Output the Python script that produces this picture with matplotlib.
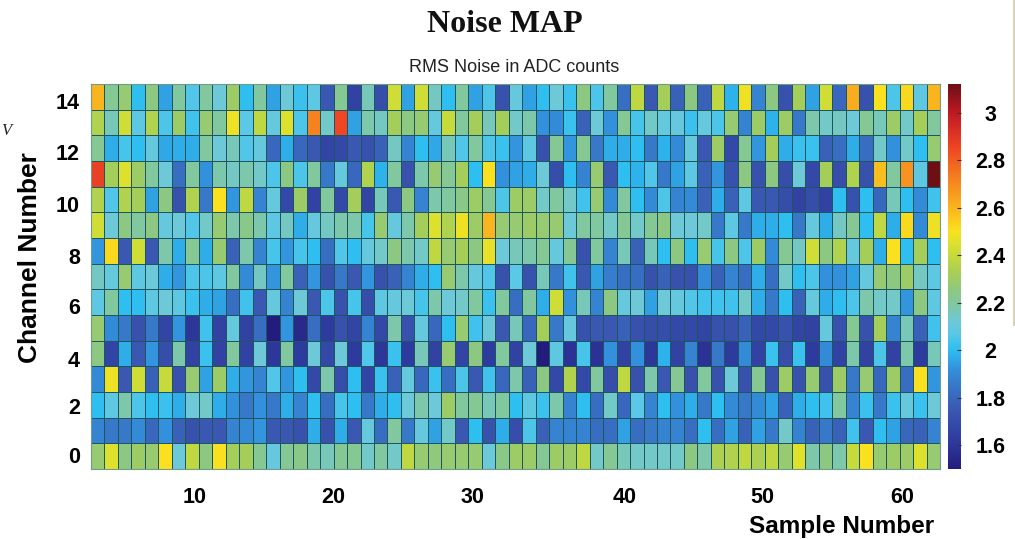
import numpy as np
from matplotlib import pyplot as plt
from matplotlib.colors import LinearSegmentedColormap, Normalize
from matplotlib.lines import Line2D

# RMS noise per channel (one list per channel, 63 samples)
row_14 = [2.6, 2.22, 2.28, 2.0, 2.25, 1.95, 2.2, 2.06, 2.2, 2.12, 2.3, 2.0, 2.2, 1.95, 2.12, 2.02, 2.08, 1.75, 2.22, 1.65, 2.16, 1.7,
          2.42, 1.95, 2.42, 2.15, 2.0, 2.2, 1.95, 2.05, 1.72, 2.1, 1.95, 2.0, 2.12, 2.02, 2.25, 2.05, 2.2, 1.82, 2.38, 1.75, 2.32,
          1.78, 2.25, 1.78, 2.38, 1.98, 2.48, 1.88, 2.25, 1.72, 2.32, 1.95, 2.42, 1.8, 2.62, 1.72, 2.5, 2.05, 2.52, 2.08, 2.6]
row_13 = [2.35, 2.16, 2.42, 2.08, 2.35, 2.05, 2.3, 2.03, 2.28, 2.2, 2.48, 2.07, 2.38, 2.1, 2.45, 2.05, 2.72, 2.14, 2.85, 1.95, 2.18, 2.15,
          2.32, 2.25, 2.28, 2.1, 2.4, 2.2, 2.32, 2.16, 2.32, 2.14, 2.18, 1.92, 1.9, 2.02, 1.78, 2.12, 1.92, 2.22, 2.04, 2.14, 2.1,
          2.1, 2.02, 2.1, 2.05, 2.28, 1.88, 2.3, 1.98, 2.3, 1.85, 2.18, 2.14, 2.15, 2.12, 2.22, 2.16, 2.3, 2.14, 2.32, 2.2]
row_12 = [2.22, 1.97, 2.04, 2.0, 2.1, 1.96, 1.97, 1.97, 2.2, 2.12, 2.16, 2.06, 2.1, 1.8, 1.97, 1.8, 1.75, 1.66, 1.68, 1.75, 1.72, 1.78,
          2.15, 1.88, 2.0, 1.96, 2.16, 2.06, 2.2, 2.05, 2.02, 1.93, 2.08, 1.72, 2.22, 1.93, 2.22, 1.85, 1.97, 1.97, 2.0, 1.85, 1.98,
          1.9, 2.1, 1.75, 2.3, 1.68, 2.22, 1.93, 2.32, 1.97, 2.02, 2.02, 1.78, 1.82, 1.97, 1.82, 2.14, 1.92, 2.14, 2.0, 2.28]
row_11 = [2.87, 2.32, 2.45, 2.3, 2.2, 2.12, 1.82, 2.2, 1.92, 2.18, 2.15, 2.18, 2.14, 2.05, 2.25, 2.05, 2.2, 1.85, 2.1, 1.8, 2.35, 1.98,
          2.2, 1.72, 2.18, 2.28, 2.22, 2.32, 2.0, 2.5, 1.92, 1.95, 1.97, 2.12, 1.7, 2.0, 1.88, 2.28, 1.75, 2.0, 1.98, 2.06, 1.85,
          1.95, 2.08, 1.78, 1.93, 1.72, 2.25, 1.72, 2.25, 1.7, 2.12, 1.68, 2.32, 1.7, 2.35, 1.72, 2.58, 2.2, 2.68, 2.08, 3.12]
row_10 = [2.35, 2.06, 2.35, 2.32, 1.95, 2.25, 1.72, 2.35, 1.85, 2.5, 1.93, 2.38, 1.88, 2.1, 1.68, 2.3, 1.65, 2.2, 1.68, 2.32, 1.66, 2.16,
          1.75, 2.25, 1.88, 2.18, 2.2, 2.24, 2.3, 2.22, 2.05, 2.3, 2.3, 2.14, 2.2, 2.14, 2.03, 2.28, 1.9, 2.2, 2.0, 1.9, 2.05,
          1.88, 1.9, 1.78, 1.97, 1.78, 2.08, 1.75, 1.75, 1.7, 1.65, 1.7, 1.65, 2.0, 1.72, 2.0, 1.8, 2.16, 2.0, 1.9, 2.03]
row_09 = [2.42, 2.12, 2.25, 2.2, 2.25, 2.1, 2.12, 2.06, 2.14, 2.28, 2.18, 2.24, 2.18, 2.08, 2.15, 1.97, 2.1, 2.15, 2.18, 2.18, 2.04, 2.28,
          2.1, 2.18, 2.32, 2.45, 2.35, 2.48, 2.3, 2.6, 2.28, 2.28, 2.3, 2.28, 2.28, 2.12, 2.2, 2.2, 2.14, 2.22, 2.14, 2.22, 2.25,
          2.12, 2.12, 2.14, 1.85, 2.08, 1.85, 1.97, 1.97, 2.0, 1.85, 2.1, 1.97, 2.15, 2.22, 2.0, 2.38, 1.97, 2.52, 1.9, 2.48]
row_08 = [1.93, 2.52, 1.75, 2.42, 1.75, 2.18, 1.97, 2.22, 1.97, 2.28, 1.78, 2.18, 1.88, 2.04, 1.93, 2.04, 2.0, 1.82, 2.06, 2.0, 2.1, 2.14,
          2.25, 2.18, 2.14, 2.38, 2.28, 2.32, 2.25, 2.47, 2.12, 2.16, 2.18, 2.22, 2.1, 2.22, 1.72, 2.2, 1.88, 2.16, 1.78, 2.16, 2.0,
          2.25, 2.0, 2.28, 2.04, 2.25, 2.05, 2.3, 1.9, 2.22, 2.15, 2.42, 2.25, 2.35, 2.1, 2.32, 1.97, 2.5, 2.0, 2.32, 2.0]
row_07 = [2.15, 2.1, 2.28, 2.08, 2.12, 1.97, 1.93, 2.05, 2.05, 2.08, 2.2, 1.9, 2.15, 1.93, 2.2, 1.78, 1.93, 1.72, 1.85, 1.75, 1.93, 1.72,
          1.78, 1.88, 1.97, 2.0, 2.28, 2.18, 2.1, 2.06, 1.72, 2.07, 1.72, 2.16, 1.85, 2.03, 1.75, 1.95, 1.87, 1.82, 1.82, 1.72, 1.78,
          1.72, 1.72, 1.9, 1.78, 1.88, 1.82, 1.97, 1.82, 2.14, 2.0, 2.05, 1.92, 1.92, 1.95, 2.1, 2.28, 2.25, 2.3, 2.15, 2.08]
row_06 = [2.08, 2.2, 2.0, 2.0, 2.08, 2.12, 2.08, 2.02, 1.97, 1.95, 1.82, 2.03, 1.75, 2.1, 1.88, 2.12, 1.75, 2.05, 1.72, 2.04, 1.7, 2.08,
          2.1, 2.12, 2.04, 2.18, 2.12, 2.14, 2.2, 2.02, 2.2, 1.82, 2.2, 1.97, 2.42, 1.92, 2.16, 1.88, 2.25, 2.1, 2.12, 1.95, 2.12,
          2.1, 2.06, 2.03, 2.03, 2.03, 2.14, 1.97, 1.85, 2.0, 1.78, 2.1, 1.97, 2.0, 2.05, 2.18, 2.14, 2.14, 1.93, 2.25, 2.08]
row_05 = [2.28, 1.9, 1.85, 1.72, 1.85, 1.66, 1.93, 1.6, 2.03, 1.65, 2.1, 1.65, 1.82, 1.48, 1.93, 1.55, 1.82, 1.62, 1.72, 1.66, 1.88, 1.68,
          2.18, 1.72, 2.1, 1.8, 2.0, 2.28, 2.03, 2.12, 1.75, 2.16, 1.8, 2.32, 1.85, 2.1, 1.72, 1.75, 1.75, 1.78, 1.72, 1.7, 1.7,
          1.68, 1.68, 1.66, 1.72, 1.72, 1.78, 1.68, 1.68, 1.72, 1.66, 1.65, 2.1, 1.72, 2.22, 1.72, 2.32, 1.88, 2.16, 1.78, 2.03]
row_04 = [2.25, 1.66, 1.97, 1.75, 1.93, 1.7, 2.18, 1.65, 2.02, 1.65, 2.2, 1.65, 2.12, 1.6, 2.2, 1.62, 2.12, 1.68, 2.12, 1.62, 2.06, 1.6,
          2.02, 1.62, 2.16, 1.65, 2.28, 1.66, 2.25, 1.62, 2.2, 1.65, 2.12, 1.45, 2.08, 1.58, 2.04, 1.58, 1.92, 1.65, 1.92, 1.6, 1.98,
          1.65, 1.88, 1.58, 1.85, 1.62, 1.9, 1.65, 2.02, 1.7, 2.02, 1.62, 1.9, 1.65, 2.18, 1.65, 2.05, 1.65, 2.18, 1.62, 2.16]
row_03 = [1.9, 2.48, 1.75, 2.42, 1.78, 2.4, 1.72, 2.28, 1.95, 2.3, 1.97, 1.93, 1.88, 2.06, 1.93, 2.0, 1.68, 2.18, 1.7, 2.0, 1.66, 2.02,
          1.78, 2.1, 1.8, 2.02, 1.82, 2.05, 1.75, 2.03, 1.8, 2.18, 1.78, 2.25, 1.68, 2.35, 1.68, 2.2, 1.7, 2.38, 1.72, 2.18, 1.75,
          2.22, 1.72, 2.2, 1.72, 2.12, 1.72, 2.22, 1.72, 2.3, 1.72, 2.28, 1.72, 2.3, 1.85, 2.28, 1.8, 2.3, 1.82, 2.5, 1.93]
row_02 = [2.0, 2.08, 2.18, 2.05, 2.0, 2.02, 1.97, 2.12, 2.14, 1.97, 1.92, 1.85, 1.92, 1.85, 1.97, 1.88, 2.0, 1.82, 2.04, 2.0, 1.85, 1.97,
          2.0, 2.12, 2.18, 2.12, 2.3, 2.2, 2.22, 2.16, 2.2, 2.0, 2.08, 2.02, 2.18, 1.88, 2.0, 1.82, 2.14, 1.8, 2.07, 1.88, 2.0,
          1.92, 1.97, 1.85, 2.0, 1.9, 1.85, 1.9, 1.95, 1.78, 1.97, 2.0, 2.03, 2.2, 1.88, 2.02, 1.85, 2.02, 2.1, 2.02, 2.12]
row_01 = [1.88, 1.85, 1.85, 1.9, 1.8, 1.92, 1.78, 1.72, 1.75, 1.75, 1.88, 1.9, 1.93, 1.75, 1.75, 1.72, 1.97, 1.72, 1.97, 1.75, 2.1, 1.82,
          2.2, 1.85, 2.1, 1.95, 2.14, 1.75, 2.0, 1.72, 1.97, 1.7, 2.05, 1.78, 1.88, 1.88, 1.88, 1.82, 1.82, 1.95, 1.82, 1.85, 1.88,
          1.88, 1.82, 2.0, 1.82, 1.95, 1.78, 1.95, 1.85, 2.14, 1.88, 1.78, 1.85, 1.78, 2.03, 1.75, 2.0, 1.95, 1.8, 1.78, 1.88]
row_00 = [2.28, 2.45, 2.25, 2.3, 2.28, 2.5, 2.12, 2.38, 2.25, 2.5, 2.32, 2.32, 2.22, 2.1, 2.22, 2.24, 2.18, 2.16, 2.22, 2.22, 2.14, 2.2,
          2.14, 2.38, 2.28, 2.26, 2.28, 2.28, 2.28, 2.12, 2.24, 2.3, 2.3, 2.22, 2.3, 2.3, 2.38, 2.14, 2.22, 2.16, 2.14, 2.14, 2.14,
          2.14, 2.25, 2.18, 2.34, 2.35, 2.38, 2.34, 2.38, 2.28, 2.46, 2.18, 2.25, 2.18, 2.4, 2.5, 2.28, 2.3, 2.3, 2.45, 2.28]

x_labels = [10, 20, 30, 40, 50, 60]
y_labels = [0, 2, 4, 6, 8, 10, 12, 14]
cbar_labels = [1.6, 1.8, 2, 2.2, 2.4, 2.6, 2.8, 3]

# the labels in the picture do not sit exactly on the cells
x_pos = [7.7, 17.95, 28.3, 39.6, 49.8, 60.2]
y_pos = [0.04, 1.96, 3.77, 5.84, 7.8, 9.84, 11.84, 13.84]

noise = np.array([row_00, row_01, row_02, row_03, row_04, row_05, row_06, row_07,
                  row_08, row_09, row_10, row_11, row_12, row_13, row_14])

vmin = 1.5
vmax = 3.12
stops = [(1.5, (36, 28, 125)), (1.6, (45, 55, 155)), (1.75, (58, 88, 178)), (1.85, (55, 120, 200)),
         (1.92, (50, 145, 220)), (2.0, (45, 190, 240)), (2.07, (90, 200, 230)), (2.12, (110, 200, 215)),
         (2.18, (125, 200, 170)), (2.25, (140, 200, 130)), (2.32, (165, 205, 90)), (2.38, (190, 215, 65)),
         (2.45, (220, 225, 45)), (2.5, (250, 225, 30)), (2.6, (250, 180, 30)), (2.72, (245, 130, 30)),
         (2.85, (240, 70, 35)), (3.0, (190, 25, 35)), (3.12, (110, 15, 20))]
cmap = LinearSegmentedColormap.from_list(
    'noise', [((v - vmin) / (vmax - vmin), tuple(c / 255 for c in rgb)) for v, rgb in stops], N=512)

W, H = 1015, 539
fig = plt.figure(figsize=(W / 100, H / 100), dpi=100)
plt.rcParams['font.family'] = 'Liberation Sans'

ax = fig.add_axes([91 / W, (H - 469) / H, 849 / W, 385 / H])
mesh = ax.pcolormesh(np.arange(64), np.arange(16) - 0.5, noise, cmap=cmap,
                     norm=Normalize(vmin, vmax), edgecolors='#1f5560', linewidth=0.55)
for s in ax.spines.values():
    s.set_color('#6f9c8c')
    s.set_linewidth(0.8)

ax.set_xticks(x_pos)
ax.set_xticklabels(x_labels, family='Liberation Sans', fontweight='bold', fontsize=15.5)
ax.set_yticks(y_pos)
ax.set_yticklabels(y_labels, family='Liberation Sans', fontweight='bold', fontsize=15.5)
ax.tick_params(axis='x', length=0, pad=13)
ax.tick_params(axis='y', length=0, pad=8)

ax.set_xlabel('Sample Number', family='Liberation Sans', fontweight='bold', fontsize=17.5)
ax.xaxis.set_label_coords((842 - 91) / 849, -(526 - 469) / 385, transform=ax.transAxes)
ax.xaxis.label.set_va('center')
ax.set_ylabel('Channel Number', family='Liberation Sans', fontweight='bold', fontsize=19)
ax.yaxis.set_label_coords((30 - 91) / 849, (469 - 258) / 385, transform=ax.transAxes)
ax.yaxis.label.set_va('center')

cax = fig.add_axes([948 / W, (H - 469) / H, 13 / W, 385 / H])
cbar = fig.colorbar(mesh, cax=cax)
cbar.set_ticks(cbar_labels)
cbar.set_ticklabels(['1.6', '1.8', '2', '2.2', '2.4', '2.6', '2.8', '3'])
cbar.outline.set_visible(False)
cax.tick_params(axis='y', direction='in', length=3, width=0.8, color='#333333', pad=21)
for t in cax.get_yticklabels():
    t.set_ha('center')
    t.set_fontweight('bold')
    t.set_fontsize(15.5)
    t.set_family('Liberation Sans')

fig.text(505 / W, (H - 24) / H, 'Noise MAP', family='Liberation Serif', fontweight='bold',
         fontsize=23, ha='center', va='center', color='#111111')
fig.text(514 / W, (H - 68) / H, 'RMS Noise in ADC counts', family='Liberation Sans',
         fontsize=13, ha='center', va='center', color='#222222')

# leftovers of the slide the chart was cut from
fig.text(6 / W, (H - 131) / H, 'V', family='Liberation Serif', style='italic',
         fontsize=12, ha='center', va='center', color='#222222')
fig.add_artist(Line2D([1013.5 / W, 1013.5 / W], [(H - 325) / H, 1], color='#d8d4b8', linewidth=1.5))

plt.savefig('out.png', dpi=100)
